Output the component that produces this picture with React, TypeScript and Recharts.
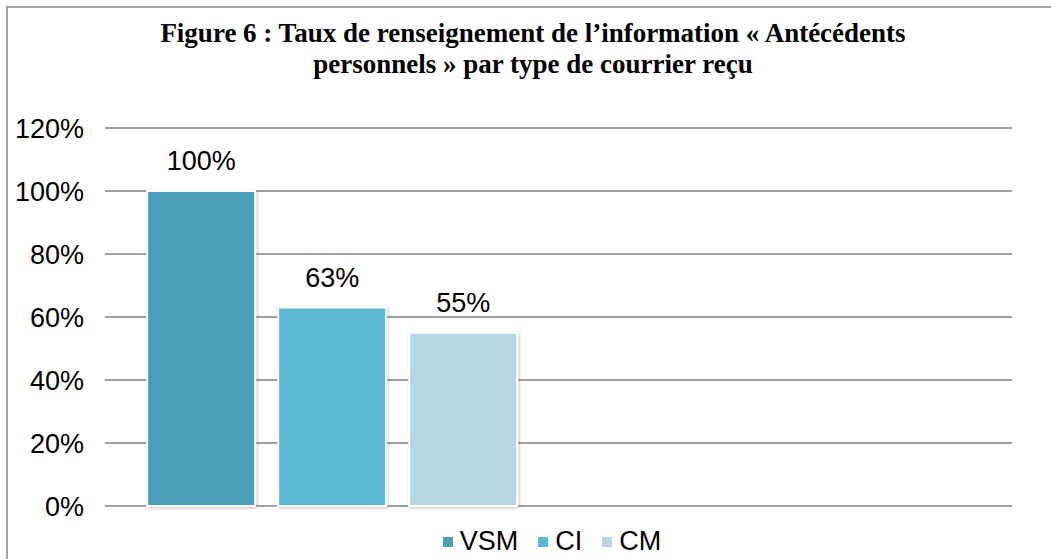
import React from 'react';
import { BarChart, Bar, XAxis, YAxis, CartesianGrid, Legend, LabelList } from 'recharts';

const categories = ['Antécédents personnels', ''];
const vsmValues = [100, null];
const ciValues = [63, null];
const cmValues = [55, null];
const yTicks = [0, 20, 40, 60, 80, 100, 120];
const seriesNames = ['VSM', 'CI', 'CM'];
const seriesColors = ['#4A9FB5', '#5BB9D3', '#B7D7E4'];

const data = categories.map((c, i) => ({
  name: c,
  VSM: vsmValues[i],
  CI: ciValues[i],
  CM: cmValues[i],
}));

const FONT = '"Liberation Sans", Arial, sans-serif';

const renderLegend = () => (
  <div style={{ display: 'flex', justifyContent: 'center', alignItems: 'center', fontFamily: FONT, fontSize: 27, color: '#000' }}>
    {seriesNames.map((s, i) => (
      <div key={s} style={{ display: 'flex', alignItems: 'center', marginRight: i < seriesNames.length - 1 ? 20 : 0 }}>
        <span style={{ display: 'inline-block', width: 10, height: 10, background: seriesColors[i], marginRight: 7 }} />
        <span>{s}</span>
      </div>
    ))}
  </div>
);

export default function App() {
  return (
    <div style={{ position: 'absolute', left: 0, top: 0, width: 1051, height: 559, background: '#fff', overflow: 'hidden' }}>
      <div style={{ position: 'absolute', left: 6, top: 6, width: 1100, height: 600, borderLeft: '2px solid #a3a3a3', borderTop: '2px solid #a3a3a3' }} />
      <div style={{ position: 'absolute', left: 0, top: 18, width: 1066, textAlign: 'center', fontFamily: '"Liberation Serif", "Times New Roman", serif', fontWeight: 'bold', fontSize: 27, lineHeight: '31px', color: '#000' }}>
        Figure 6 : Taux de renseignement de l’information « Antécédents<br />personnels » par type de courrier reçu
      </div>
      <div style={{ position: 'absolute', left: 0, top: 0 }}>
        <BarChart width={1051} height={559} data={data} margin={{ top: 128, right: 39, left: 25, bottom: 53 }} barCategoryGap="9.3%" barGap={23}>
          <defs>
            <filter id="barShadow" x="-10%" y="-10%" width="120%" height="120%">
              <feDropShadow dx="1" dy="1" stdDeviation="1.5" floodColor="#000" floodOpacity="0.25" />
            </filter>
          </defs>
          <CartesianGrid vertical={false} stroke="#a0a0a0" strokeWidth={2} />
          <XAxis dataKey="name" hide />
          <YAxis
            width={80}
            domain={[0, 120]}
            ticks={yTicks}
            tickFormatter={(v: number) => `${v}%`}
            axisLine={false}
            tickLine={false}
            tickSize={0}
            tickMargin={21}
            tick={{ fill: '#000', fontSize: 27, fontFamily: FONT }}
          />
          <Legend
            verticalAlign="middle"
            align="center"
            content={renderLegend}
            wrapperStyle={{ top: 526, left: 0, width: 1104 }}
          />
          {seriesNames.map((s, i) => (
            <Bar key={s} dataKey={s} name={s} fill={seriesColors[i]} stroke="#fff" strokeWidth={2} filter="url(#barShadow)" isAnimationActive={false}>
              <LabelList dataKey={s} position="top" offset={21} formatter={(v: any) => (v == null ? '' : `${v}%`)} style={{ fill: '#000', fontSize: 27, fontFamily: FONT }} />
            </Bar>
          ))}
        </BarChart>
      </div>
    </div>
  );
}
